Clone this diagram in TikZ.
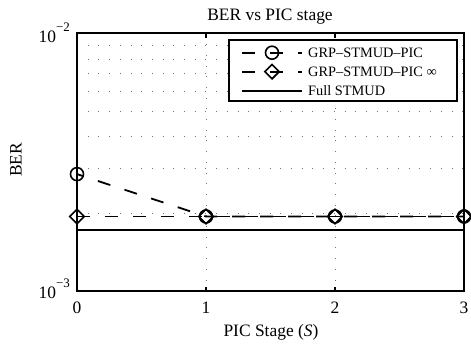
\documentclass[tikz,border=0pt]{standalone}
\usepackage{fontspec}
\setmainfont{Liberation Serif}
\usetikzlibrary{shapes.geometric}
\begin{document}
\begin{tikzpicture}[x=1bp,y=-1bp,
  axisline/.style={line width=1.3bp},
  gridline/.style={line width=0.8bp, black!55, dash pattern=on 0.8bp off 9.9bp},
  dataline/.style={line width=1.8bp, dash pattern=on 13bp off 15bp},
  solidline/.style={line width=1.8bp},
  circmark/.style={circle, draw, line width=1.6bp, minimum size=13bp, inner sep=0pt},
  diamark/.style={diamond, draw, line width=1.6bp, minimum size=15bp, inner sep=0pt},
  lbl/.style={font=\fontsize{17.5}{20}\selectfont},
  leg/.style={font=\fontsize{14.4}{16}\selectfont, anchor=west, inner sep=0pt},
]
\useasboundingbox (0,0) rectangle (471,345);
% axes frame: x = 77 + 129*s, y = 291 - 257*log10(v/1e-3)
\coordinate (ll) at (77,291);
\coordinate (ur) at (464,33);

% dotted grid
\foreach \v in {2,...,9}
  \draw[gridline] (77,{291-257*log10(\v)}) -- (464,{291-257*log10(\v)});
\foreach \s in {1,2}
  \draw[gridline] ({77+129*\s},291) -- ({77+129*\s},33);

% data: Full STMUD
\draw[solidline] (77,{291-257*log10(1.73)}) -- (464,{291-257*log10(1.73)});
% data: GRP-STMUD-PIC infinity
\draw[dataline] (77,{291-257*log10(1.95)}) -- (464,{291-257*log10(1.95)});
% data: GRP-STMUD-PIC
\draw[dataline, dash phase=6bp] (77,{291-257*log10(2.85)}) -- (206,{291-257*log10(1.95)})
  -- (335,{291-257*log10(1.95)}) -- (464,{291-257*log10(1.95)});

% markers
\node[circmark] (c0) at (77,{291-257*log10(2.85)}) {};
\node[circmark] (c1) at (206,{291-257*log10(1.95)}) {};
\node[circmark] (c2) at (335,{291-257*log10(1.95)}) {};
\node[circmark] (c3) at (464,{291-257*log10(1.95)}) {};
\node[diamark] (d0) at (77,{291-257*log10(1.95)}) {};
\node[diamark] (d1) at (206,{291-257*log10(1.95)}) {};
\node[diamark] (d2) at (335,{291-257*log10(1.95)}) {};
\node[diamark] (d3) at (464,{291-257*log10(1.95)}) {};

% axes box and ticks
\draw[axisline] (ll) rectangle (ur);
\foreach \s in {1,2} {
  \draw[axisline] ({77+129*\s},291) -- ({77+129*\s},286.5);
  \draw[axisline] ({77+129*\s},33) -- ({77+129*\s},37.5);
}

% tick labels
\foreach \s in {0,1,2,3}
  \node[lbl, anchor=base, inner sep=0pt] (xt\s) at ({77+129*\s},313.5) {\s};
\node[lbl, anchor=base east, inner sep=0pt] (yt2) at (70,42)
  {10\raisebox{0.62em}{\fontsize{13}{14}\selectfont −2}};
\node[lbl, anchor=base east, inner sep=0pt] (yt3) at (70,298)
  {10\raisebox{0.62em}{\fontsize{13}{14}\selectfont −3}};

% title and axis labels
\node[lbl, anchor=base, inner sep=0pt] (title) at (270,20.5) {BER vs PIC stage};
\node[lbl, anchor=base, inner sep=0pt] (xlab) at (271,336.5) {PIC Stage (\textit{S})};
\node[lbl, anchor=base, inner sep=0pt, rotate=90] (ylab) at (21.7,160) {BER};

% legend
\draw[axisline, fill=white] (229,40) rectangle (457,101);
\draw[dataline] (242,52.7) -- (302,52.7);
\node[circmark] (lc) at (272,52.7) {};
\node[leg] (l1) at (308,52.7) {GRP–STMUD–PIC};
\draw[dataline] (242,71.7) -- (302,71.7);
\node[diamark] (ld) at (272,71.7) {};
\node[leg] (l2) at (308,71.7) {GRP–STMUD–PIC ∞};
\draw[solidline] (242,90.7) -- (302,90.7);
\node[leg] (l3) at (308,90.7) {Full STMUD};
\end{tikzpicture}
\end{document}
